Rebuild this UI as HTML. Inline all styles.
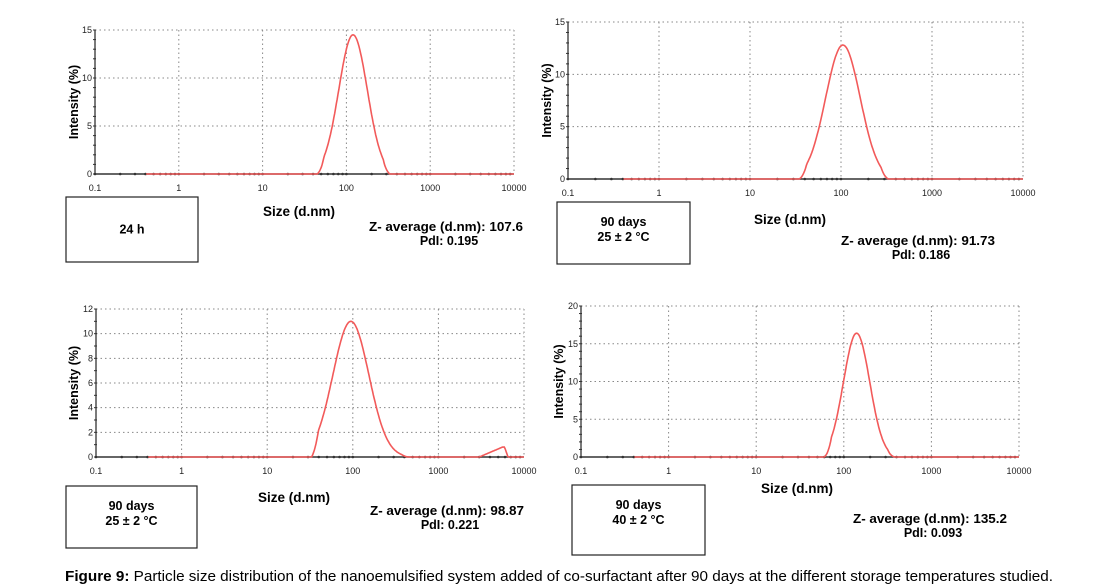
<!DOCTYPE html>
<html><head><meta charset="utf-8"><style>
body{margin:0;background:#fff;width:1110px;height:587px;overflow:hidden;font-family:"Liberation Sans",Arial,sans-serif}
svg{position:absolute;left:0;top:0}
</style></head><body>
<svg id="s" width="1110" height="587" xmlns="http://www.w3.org/2000/svg" font-family="Liberation Sans, Arial, sans-serif"></svg>
<script>
const P=[
{l:95,r:514,t:30,b:174,ymax:15,step:5,minor:1,c:120,sg:0.17,pk:14.5,lo:45,hi:330,
 box:[66,197,132,65],bt:["24 h"],sx:299,sy:216,zx:446,zy:231,lx:74},
{l:568,r:1023,t:22,b:179,ymax:15,step:5,minor:1,c:105,sg:0.19,pk:12.8,lo:35,hi:330,
 box:[557,202,133,62],bt:["90 days","25 ± 2 °C"],sx:790,sy:224,zx:918,zy:245,lx:547},
{l:96,r:524,t:309,b:457,ymax:12,step:2,minor:1,c:95,sg:0.21,pk:11,lo:33,hi:450,
 box:[66,486,131,62],bt:["90 days","25 ± 2 °C"],sx:294,sy:502,zx:447,zy:515,lx:74,bump:true},
{l:581,r:1019,t:306,b:457,ymax:20,step:5,minor:1,c:140,sg:0.15,pk:16.4,lo:60,hi:380,
 box:[572,485,133,70],bt:["90 days","40 ± 2 °C"],sx:797,sy:493,zx:930,zy:523,lx:559}
];
const Z=["Z- average  (d.nm): 107.6","Z- average  (d.nm): 91.73","Z- average  (d.nm): 98.87","Z- average  (d.nm): 135.2"];
const D=["PdI: 0.195","PdI: 0.186","PdI: 0.221","PdI: 0.093"];
let h="";
P.forEach((p,i)=>{
 const X=v=>p.l+(Math.log10(v)+1)/5*(p.r-p.l);
 const Y=v=>p.b-v/p.ymax*(p.b-p.t);
 for(let v=p.step;v<=p.ymax;v+=p.step)h+=`<line x1="${p.l}" x2="${p.r}" y1="${Y(v)}" y2="${Y(v)}" stroke="#888" stroke-dasharray="1.5,3"/>`;
 for(let k=0;k<=5;k++){const x=p.l+k/5*(p.r-p.l);if(k>0)h+=`<line x1="${x}" x2="${x}" y1="${p.t}" y2="${p.b}" stroke="#888" stroke-dasharray="1.5,3"/>`;
  h+=`<text x="${x}" y="${p.b+17}" font-size="9" text-anchor="middle" fill="#222">${[0.1,1,10,100,1000,10000][k]}</text>`;}
 h+=`<line x1="${p.l}" x2="${p.l}" y1="${p.t}" y2="${p.b}" stroke="#333" stroke-width="1.3"/>`;
 for(let v=0;v<=p.ymax;v+=p.minor){h+=`<line x1="${p.l-2}" x2="${p.l+1}" y1="${Y(v)}" y2="${Y(v)}" stroke="#333"/>`;}
 for(let v=0;v<=p.ymax;v+=p.step)h+=`<text x="${p.l-3}" y="${Y(v)+3}" font-size="9" text-anchor="end" fill="#222">${v}</text>`;
 h+=`<text transform="translate(${p.lx+4},${(p.t+p.b)/2}) rotate(-90)" font-size="12.5" font-weight="bold" text-anchor="middle">Intensity (%)</text>`;
 h+=`<line x1="${p.l}" x2="${p.r}" y1="${p.b}" y2="${p.b}" stroke="#333" stroke-width="1.5"/>`;
 for(let d=-1;d<4;d++)for(let m=1;m<10;m++){h+=`<circle cx="${X(m*Math.pow(10,d))}" cy="${p.b}" r="1.3" fill="#333"/>`;}
 let pts=[];
 for(let k=0;k<=500;k++){const lv=-1+k/100;const v=Math.pow(10,lv);let y=0;
  if(v>=p.lo&&v<=p.hi){y=p.pk*Math.exp(-Math.pow(lv-Math.log10(p.c),2)/(2*p.sg*p.sg));
   const e=Math.min(Math.log10(v/p.lo),Math.log10(p.hi/v));y*=Math.min(1,e/0.08);}
  if(p.bump&&v>=3000&&v<=6500){y=0.8*Math.min(1,Math.log10(v/3000)/0.27)*Math.min(1,Math.log10(6500/v)/0.04);}
  if(lv<Math.log10(0.4))continue;
  pts.push(X(v).toFixed(1)+","+Y(y).toFixed(1));}
 h+=`<polyline points="${pts.join(" ")}" fill="none" stroke="#f25a5a" stroke-width="1.6"/>`;
 h+=`<text x="${p.sx}" y="${p.sy}" font-size="13.5" font-weight="bold" text-anchor="middle">Size (d.nm)</text>`;
 h+=`<text x="${p.zx}" y="${p.zy}" font-size="12.5" font-weight="bold" text-anchor="middle" textLength="154" lengthAdjust="spacingAndGlyphs">${Z[i]}</text>`;
 h+=`<text x="${p.zx+3}" y="${p.zy+14}" font-size="12.5" font-weight="bold" text-anchor="middle">${D[i]}</text>`;
 const [bx,by,bw,bh]=p.box;
 h+=`<rect x="${bx}" y="${by}" width="${bw}" height="${bh}" fill="none" stroke="#222" stroke-width="1.2"/>`;
 if(p.bt.length==1)h+=`<text x="${bx+bw/2}" y="${by+bh/2+4}" font-size="12.5" font-weight="bold" text-anchor="middle">${p.bt[0]}</text>`;
 else{h+=`<text x="${bx+bw/2}" y="${by+24}" font-size="12.5" font-weight="bold" text-anchor="middle">${p.bt[0]}</text>`;
  h+=`<text x="${bx+bw/2}" y="${by+39}" font-size="12.5" font-weight="bold" text-anchor="middle">${p.bt[1]}</text>`;}
});
h+=`<text x="65" y="581" font-size="14.5" textLength="988" lengthAdjust="spacingAndGlyphs"><tspan font-weight="bold">Figure 9:</tspan> Particle size distribution of the nanoemulsified system added of co-surfactant after 90 days at the different storage temperatures studied.</text>`;
document.getElementById("s").innerHTML=h;
</script>
</body></html>
